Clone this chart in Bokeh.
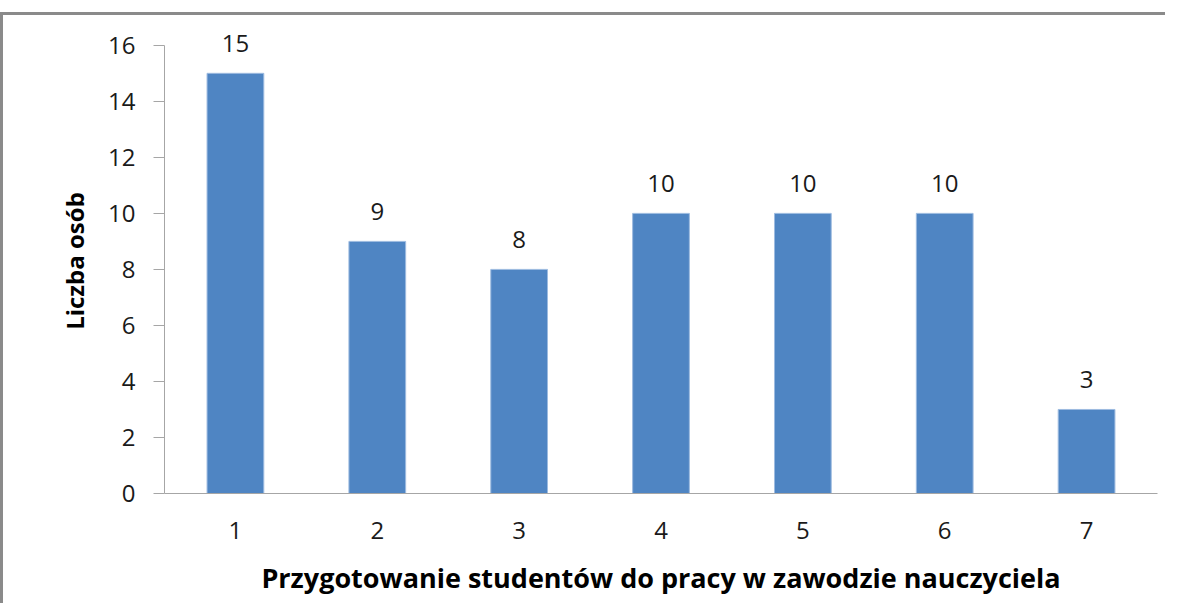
from bokeh.plotting import figure
from bokeh.models import ColumnDataSource, FixedTicker, Range1d
from bokeh.core.properties import value
from bokeh.embed import file_html
from bokeh.resources import INLINE

categories = ["1", "2", "3", "4", "5", "6", "7"]
counts = [15, 9, 8, 10, 10, 10, 3]
y_ticks = [0, 2, 4, 6, 8, 10, 12, 14, 16]
x_title = "Przygotowanie studentów do pracy w zawodzie nauczyciela"
y_title = "Liczba osób"

src = ColumnDataSource(dict(cat=categories, val=counts, lab=[str(v) for v in counts]))

p = figure(x_range=categories, y_range=Range1d(0, 16.6),
           frame_width=993, frame_height=465,
           min_border_left=161, min_border_right=8, min_border_top=13, min_border_bottom=110,
           output_backend="svg", toolbar_location=None)
p.styles = {"border-top": "3px solid #8a8a8a", "border-left": "3px solid #8a8a8a", "margin-top": "12px"}
p.outline_line_color = None
p.xgrid.grid_line_color = None
p.ygrid.grid_line_color = None

p.vbar(x="cat", top="val", width=0.4, source=src, fill_color="#4F85C3", line_color="#9dbbe0", line_width=1)
p.text(x="cat", y="val", text="lab", source=src, text_align="center", text_baseline="alphabetic",
       y_offset=-30, text_font=value("Open Sans"), text_font_size="24px", text_color="#1a1a1a")

FONT = "Open Sans"
p.yaxis.ticker = FixedTicker(ticks=y_ticks)
p.yaxis.bounds = (0, 16)
p.yaxis.axis_line_color = "#a6a6a6"
p.yaxis.major_tick_line_color = "#a6a6a6"
p.yaxis.major_tick_out = 11
p.yaxis.major_tick_in = 0
p.yaxis.minor_tick_line_color = None
p.yaxis.major_label_text_font = FONT
p.yaxis.major_label_text_font_size = "24px"
p.yaxis.major_label_text_color = "#1a1a1a"
p.yaxis.major_label_standoff = 18
p.yaxis.axis_label = y_title
p.yaxis.axis_label_text_font = FONT
p.yaxis.axis_label_text_font_style = "bold"
p.yaxis.axis_label_text_font_size = "24px"
p.yaxis.axis_label_text_color = "#000000"
p.yaxis.axis_label_standoff = 14

p.xaxis.axis_line_color = "#a6a6a6"
p.xaxis.major_tick_line_color = None
p.xaxis.major_tick_out = 0
p.xaxis.major_label_text_font = FONT
p.xaxis.major_label_text_font_size = "24px"
p.xaxis.major_label_text_color = "#1a1a1a"
p.xaxis.major_label_standoff = 28
p.xaxis.axis_label = x_title
p.xaxis.axis_label_text_font = FONT
p.xaxis.axis_label_text_font_style = "bold"
p.xaxis.axis_label_text_font_size = "27px"
p.xaxis.axis_label_text_color = "#000000"
p.xaxis.axis_label_standoff = 17

open("out.html", "w").write(file_html(p, INLINE))
